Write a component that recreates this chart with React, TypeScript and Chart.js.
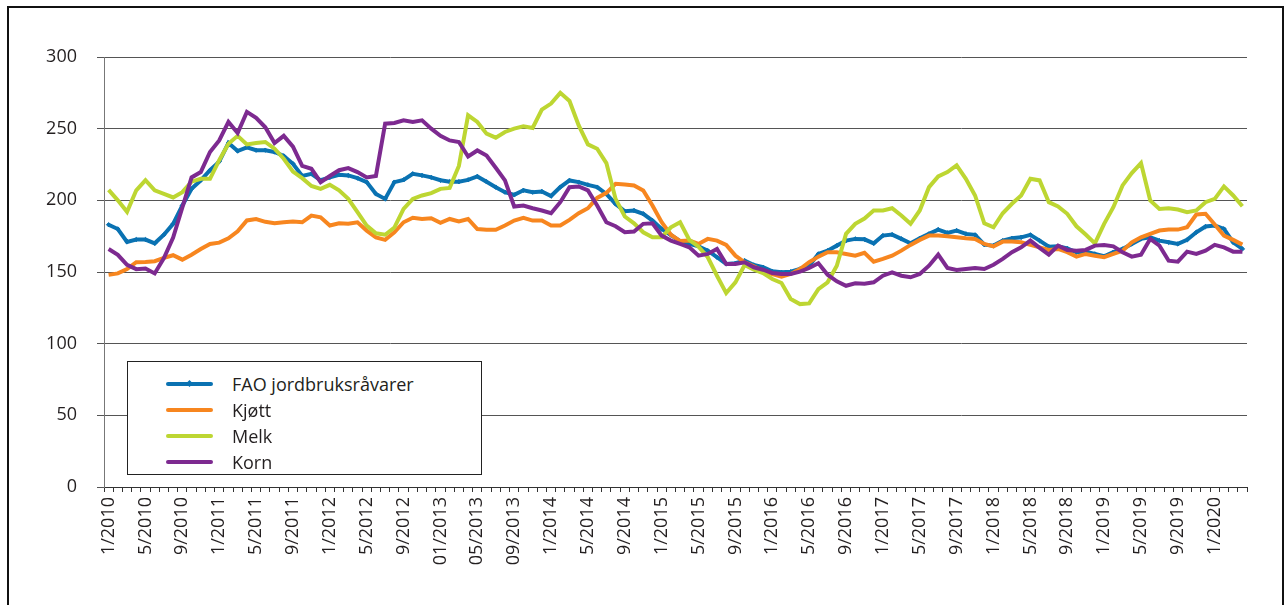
import React, { useEffect, useRef } from "react";
import { Chart, registerables } from "chart.js";

Chart.register(...registerables);

const years = [2010, 2011, 2012, 2013, 2014, 2015, 2016, 2017, 2018, 2019, 2020];
const months = [1, 2, 3, 4, 5, 6, 7, 8, 9, 10, 11, 12];
const categories: string[] = years.flatMap((y) => months.map((m) => `${m}/${y}`)).slice(0, 124);

const tickLabels = [
  "1/2010", "5/2010", "9/2010", "1/2011", "5/2011", "9/2011", "1/2012", "5/2012", "9/2012",
  "01/2013", "05/2013", "09/2013", "1/2014", "5/2014", "9/2014", "1/2015", "5/2015", "9/2015",
  "1/2016", "5/2016", "9/2016", "1/2017", "5/2017", "9/2017", "1/2018", "5/2018", "9/2018",
  "1/2019", "5/2019", "9/2019", "1/2020",
];

const fao = [
  183, 180, 171, 172.6, 172.6, 170, 176, 183.6, 196.4, 208, 214, 221, 227, 240, 234.4, 237, 235, 235, 233.7, 231,
  225.5, 217, 218.5, 214, 216, 217.8, 217.4, 215.5, 212.7, 204.5, 201, 212.7, 214.3, 218.5, 217.4, 216, 214, 213, 213, 214.3,
  216.7, 213, 209.2, 205.7, 203.8, 207, 205.7, 206.2, 203, 209.2, 213.9, 212.7, 210.8, 209.2, 204.5, 197.5, 192.4, 192.9, 190.6, 185.9,
  180, 175.8, 171.5, 169.6, 167.9, 164.9, 160.3, 155.6, 156.1, 157.9, 154.9, 153.3, 150.5, 149.8, 150.2, 152.1, 154.4, 162.6, 164.9, 168.4,
  171.9, 173.1, 172.8, 170, 175.4, 176.1, 173.1, 170, 173.5, 176.6, 179.6, 177.3, 178.9, 176.6, 175.9, 169.1, 168.4, 171.9, 173.5, 174.2,
  175.9, 171.9, 167.7, 168, 166.5, 163.8, 164.2, 162.6, 161, 163.8, 166.1, 169.6, 173.1, 174.2, 171.9, 170.7, 169.6, 172.4, 177.7, 181.7,
  182.4, 180.1, 170.7, 166.1,
];

const kjott = [
  148, 149, 152, 156.8, 157, 157.5, 159.8, 161.7, 158.6, 162, 166, 169.6, 170.5, 173.5, 178.4, 186, 187, 185, 184, 184.7,
  185.2, 184.7, 189.4, 188.2, 182.4, 184, 183.6, 184.7, 178.9, 174.2, 172.4, 177.7, 184.7, 187.8, 187, 187.5, 184.3, 187, 185.2, 187,
  180, 179.4, 179.4, 182.4, 185.9, 187.8, 185.9, 185.9, 182.4, 182.4, 186.4, 191, 194.5, 201.7, 205.2, 211.5, 211, 210.4, 206.9, 196.4,
  184.7, 176, 171.6, 171.9, 169.6, 173.1, 171.9, 168.9, 161.4, 156.8, 154, 150.9, 148.6, 146.7, 148.6, 152.1, 156.8, 160.7, 163.8, 163.8,
  162.6, 161.4, 163.4, 157.2, 159.1, 161.4, 164.9, 168.9, 172.4, 175.4, 175.4, 174.9, 174.2, 173.5, 173.1, 169.6, 167.9, 171.2, 171.2, 170.7,
  168.9, 167.2, 165.4, 166.1, 163.8, 160.7, 162.6, 161.4, 160.3, 162.6, 164.9, 170.7, 174.2, 176.6, 178.9, 179.6, 179.6, 181.2, 190.1, 190.6,
  183.1, 175.4, 172.4, 169.1,
];

const melk = [
  207.3, 200, 192, 207, 214, 207, 204.5, 202, 205.7, 213, 215, 215, 228, 239.5, 245, 239, 240, 240.7, 236, 229,
  220, 215.5, 210, 208, 210.8, 207, 201, 191.7, 182.4, 177, 176, 181, 194, 201, 203.4, 205, 208, 208.7, 224, 259.3,
  254.7, 246.5, 243.7, 247.7, 250, 251.6, 250.5, 263.3, 267.5, 275, 269.3, 252.3, 239, 236, 226, 201, 188.7, 184, 177.7, 174.2,
  174.2, 181.2, 184.7, 172.4, 167.7, 160.3, 147.4, 135.3, 142.8, 154.9, 151.6, 149.3, 145.1, 142.3, 131.1, 127.6, 128.1, 138.1, 142.8, 154.4,
  176.6, 183.6, 187.3, 192.9, 192.9, 194.5, 189.4, 183.6, 192.9, 209.2, 216.7, 219.7, 224.4, 215, 203.4, 184, 181.2, 191, 197.6, 203.4,
  215, 213.9, 198.7, 195.8, 190.6, 181.9, 176.1, 170, 183.6, 195.2, 210.4, 219, 226, 199.9, 194, 194.5, 193.6, 191.7, 192.9, 198.7,
  201, 209.7, 203.4, 195.9,
];

const korn = [
  166, 162, 155, 152, 152.5, 149, 159.8, 174, 195, 216, 219.7, 233.7, 241.8, 254.7, 247, 261.7, 257.5, 251, 240, 245,
  237.5, 224, 222, 212.7, 217, 221, 222.5, 219.7, 216, 217, 253.5, 254, 255.8, 254.7, 255.8, 250, 245, 241.8, 240.7, 230.6,
  234.8, 231.2, 222.7, 213.9, 195.7, 196.4, 194.5, 192.9, 191, 198.7, 209.2, 209.7, 206.9, 196.4, 184.7, 181.9, 177.7, 178.2, 183.6, 184,
  175.4, 171.9, 169.6, 167.2, 161.4, 162.6, 166.1, 155.6, 155.6, 156.8, 153.3, 151.6, 149.3, 148.6, 148.6, 150.2, 152.8, 156.1, 148.1, 143.5,
  140.4, 142.1, 141.8, 142.8, 147.4, 149.8, 147.4, 146.3, 148.6, 154.4, 162.1, 152.8, 151.4, 152.1, 152.8, 152.1, 155.1, 159.1, 163.8, 167.2,
  171.9, 166.8, 162.1, 168.4, 165.4, 164.9, 165.4, 168.4, 168.9, 167.9, 163.8, 160.7, 162.1, 173.1, 168.4, 157.9, 157.2, 164.2, 162.6, 164.9,
  168.9, 167.2, 164.2, 164.2,
];

const seriesNames = ["FAO jordbruksråvarer", "Kjøtt", "Melk", "Korn"];
const seriesColors = ["#0A72B2", "#F7861F", "#BDD632", "#7D2A90"];

const FONT = "'Open Sans', 'DejaVu Sans', sans-serif";

export default function App() {
  const canvasRef = useRef<HTMLCanvasElement | null>(null);

  useEffect(() => {
    const canvas = canvasRef.current;
    if (!canvas) return;
    const values = [fao, kjott, melk, korn];
    const chart = new Chart(canvas, {
      type: "line",
      data: {
        labels: categories,
        datasets: values.map((vals, k) => ({
          label: seriesNames[k],
          data: vals,
          borderColor: seriesColors[k],
          backgroundColor: seriesColors[k],
          borderWidth: 4,
          tension: 0,
          fill: false,
          order: 4 - k,
          pointRadius: k === 0 ? 2.2 : 0,
          pointStyle: "rectRot",
          pointBorderWidth: 1,
          pointBorderColor: seriesColors[k],
          pointBackgroundColor: seriesColors[k],
          pointHoverRadius: 0,
        })),
      },
      options: {
        responsive: false,
        animation: false,
        devicePixelRatio: 1,
        layout: { padding: { left: 0, top: 57, right: 37, bottom: 0 } },
        plugins: {
          legend: { display: false },
          tooltip: { enabled: false },
        },
        scales: {
          x: {
            type: "category",
            offset: true,
            grid: {
              offset: true,
              drawOnChartArea: false,
              drawTicks: true,
              tickLength: 5,
              color: "#333",
            },
            border: { color: "#333", width: 1 },
            ticks: {
              autoSkip: false,
              maxRotation: 90,
              minRotation: 90,
              padding: 5,
              color: "#231F20",
              font: { family: FONT, size: 18 },
              callback: (_v: any, index: number) => (index % 4 === 0 ? tickLabels[index / 4] : ""),
            },
            afterFit: (s: any) => {
              s.height = 118;
            },
          },
          y: {
            min: 0,
            max: 300,
            grid: {
              color: "#555",
              lineWidth: 1,
              drawTicks: true,
              tickLength: 7,
            },
            border: { color: "#777", width: 1 },
            ticks: {
              stepSize: 50,
              padding: 20,
              color: "#231F20",
              font: { family: FONT, size: 18 },
            },
            afterFit: (s: any) => {
              s.width = 104;
            },
          },
        },
      },
    });
    return () => chart.destroy();
  }, []);

  const rowY = [384, 410, 436, 462];

  return (
    <div style={{ position: "fixed", left: 0, top: 0, width: 1284, height: 605, background: "#fff", overflow: "hidden" }}>
      <canvas ref={canvasRef} width={1284} height={605} style={{ position: "absolute", left: 0, top: 0, width: 1284, height: 605 }} />
      <div
        style={{
          position: "absolute",
          left: 7,
          top: 6,
          width: 1277,
          height: 640,
          boxSizing: "border-box",
          border: "2px solid #111",
          pointerEvents: "none",
        }}
      />
      <div
        style={{
          position: "absolute",
          left: 127,
          top: 361,
          width: 355,
          height: 114,
          boxSizing: "border-box",
          border: "1px solid #222",
          background: "#fff",
        }}
      />
      {seriesNames.map((name, k) => (
        <React.Fragment key={name}>
          <div
            style={{
              position: "absolute",
              left: 166,
              top: rowY[k] - 2,
              width: 47,
              height: 4,
              borderRadius: 2,
              background: seriesColors[k],
            }}
          />
          {k === 0 && (
            <div
              style={{
                position: "absolute",
                left: 187,
                top: rowY[k] - 3.5,
                width: 5,
                height: 5,
                transform: "rotate(45deg)",
                background: seriesColors[k],
              }}
            />
          )}
          <div
            style={{
              position: "absolute",
              left: 232,
              top: rowY[k] - 14,
              height: 28,
              lineHeight: "28px",
              fontFamily: FONT,
              fontSize: 18,
              color: "#231F20",
              whiteSpace: "nowrap",
            }}
          >
            {name}
          </div>
        </React.Fragment>
      ))}
    </div>
  );
}
